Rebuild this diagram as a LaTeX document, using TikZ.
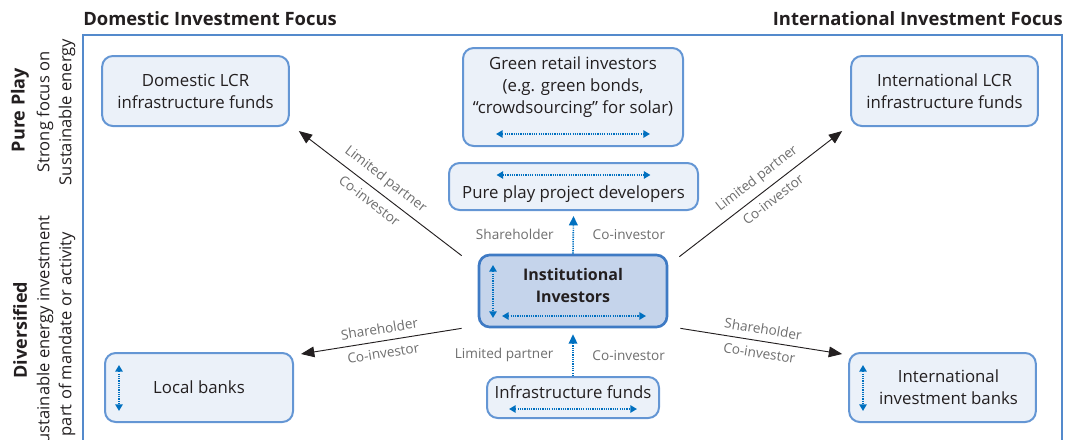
\documentclass[tikz,border=0pt]{standalone}
\usepackage{fontspec}
\setmainfont{Open Sans}
\usetikzlibrary{arrows.meta}

\begin{document}
\begin{tikzpicture}[x=0.75pt,y=-0.75pt,
	box/.style={draw=boxline, fill=boxfill, line width=1.5pt, rounded corners=8pt},
	boxtext/.style={align=center, text=textgray, font=\fontsize{12.6}{16.5}\selectfont},
	heading/.style={inner sep=0pt, text=textgray, font=\fontsize{13.8}{16}\selectfont\bfseries},
	sidetext/.style={rotate=90, align=center, text=textgray, font=\fontsize{12.4}{16.5}\selectfont},
	role/.style={inner sep=2pt, text=rolegray, font=\fontsize{10.2}{12}\selectfont},
	slopedrole/.style={role, sloped, inner sep=5pt},
	invest/.style={draw=textgray, line width=0.7pt, -{Triangle[length=10pt,width=8pt]}},
	dotline/.style={draw=dotblue, line width=1.2pt, dash pattern=on 0.9pt off 0.8pt},
	swap/.style={dotline, {Triangle[length=5pt,width=5.5pt]}-{Triangle[length=5pt,width=5.5pt]}},
	feed/.style={dotline, -{Triangle[length=7pt,width=6.5pt]}}
]
	% Colours
	\definecolor{frameblue}{RGB}{84,138,204}
	\definecolor{boxline}{RGB}{100,150,212}
	\definecolor{boxfill}{RGB}{235,241,249}
	\definecolor{instfill}{RGB}{197,212,235}
	\definecolor{instline}{RGB}{62,122,196}
	\definecolor{dotblue}{RGB}{0,112,192}
	\definecolor{textgray}{RGB}{35,31,32}
	\definecolor{rolegray}{RGB}{110,110,110}

	\useasboundingbox (0,0) rectangle (1067,439);

	% Column headings and frame
	\node[heading, anchor=west] (domtitle) at (83,19) {Domestic Investment Focus};
	\node[heading, anchor=east] (inttitle) at (1063,19) {International Investment Focus};
	\draw[frameblue, line width=1.6pt] (83,450) -- (83,35) -- (1062,35) -- (1062,450);

	% Row headings (rotated)
	\node[sidetext, font=\fontsize{13.5}{16}\selectfont\bfseries] (puretitle) at (20,110) {Pure Play};
	\node[sidetext] (puresub) at (56,112) {Strong focus on\\Sustainable energy};
	\node[sidetext, font=\fontsize{13.5}{16}\selectfont\bfseries] (divtitle) at (20,330) {Diversified};
	\node[sidetext] (divsub) at (56,334) {Sustainable energy investment\\part of mandate or activity};

	% Boxes
	\node[box, minimum width=140pt, minimum height=52.5pt] (domlcr) at (195.5,91) {};
	\node[box, minimum width=165pt, minimum height=73.5pt] (green) at (573,97) {};
	\node[box, minimum width=186.75pt, minimum height=35.25pt] (pure) at (573.5,186.5) {};
	\node[box, minimum width=140pt, minimum height=52.5pt] (intlcr) at (944.5,91) {};
	\node[box, draw=instline, fill=instfill, line width=2pt, minimum width=141pt, minimum height=54pt] (inst) at (573,291) {};
	\node[box, minimum width=129pt, minimum height=30.75pt] (infra) at (573,397.5) {};
	\node[box, minimum width=141pt, minimum height=51.75pt] (local) at (199,387.5) {};
	\node[box, minimum width=140pt, minimum height=51.75pt] (intbanks) at (942.5,387.5) {};

	% Box texts
	\node[boxtext] (domlcrtext) at (domlcr) {Domestic LCR\\infrastructure funds};
	\node[boxtext] (greentext) at ([shift={(0,-10)}]green.center) {Green retail investors\\(e.g. green bonds,\\``crowdsourcing'' for solar)};
	\node[boxtext] (puretext) at ([shift={(0,7.5)}]pure.center) {Pure play project developers};
	\node[boxtext] (intlcrtext) at (intlcr) {International LCR\\infrastructure funds};
	\node[boxtext, font=\fontsize{12}{16}\selectfont\bfseries] (insttext) at ([shift={(0,-5.5)}]inst.center) {Institutional\\Investors};
	\node[boxtext] (infratext) at ([shift={(0,-5.5)}]infra.center) {Infrastructure funds};
	\node[boxtext] (localtext) at (local) {Local banks};
	\node[boxtext] (intbankstext) at ([shift={(6,0)}]intbanks.center) {International\\investment banks};

	% Dotted two-way arrows inside boxes
	\draw[swap] ([shift={(-77,37)}]green.center) -- ([shift={(77,37)}]green.center);
	\draw[swap] ([shift={(-77,-11.5)}]pure.center) -- ([shift={(77,-11.5)}]pure.center);
	\draw[swap] ([shift={(-71,25)}]inst.center) -- ([shift={(73,25)}]inst.center);
	\draw[swap] ([shift={(-80,-26)}]inst.center) -- ([shift={(-80,27)}]inst.center);
	\draw[swap] ([shift={(-64,11.5)}]infra.center) -- ([shift={(64,11.5)}]infra.center);
	\draw[swap] ([shift={(-80,-22.5)}]local.center) -- ([shift={(-80,23.5)}]local.center);
	\draw[swap] ([shift={(-79.5,-22.5)}]intbanks.center) -- ([shift={(-79.5,23.5)}]intbanks.center);

	% Investment links from institutional investors
	\draw[invest] ([xshift=-12pt,yshift=-1.5pt]inst.north west) -- ([xshift=6.75pt,yshift=-3pt]domlcr.south east)
		node[slopedrole, pos=.52, above] (dl1) {Limited partner}
		node[slopedrole, pos=.52, below] (dl2) {Co-investor};
	\draw[invest] ([xshift=8.25pt,yshift=-2.25pt]inst.north east) -- ([xshift=-6pt,yshift=-3pt]intlcr.south west)
		node[slopedrole, pos=.53, above] (il1) {Limited partner}
		node[slopedrole, pos=.53, below] (il2) {Co-investor};
	\draw[invest] ([xshift=-12pt]inst.south west) -- ([xshift=5.25pt,yshift=-1.5pt]local.north east)
		node[slopedrole, pos=.5, above] (lb1) {Shareholder}
		node[slopedrole, pos=.5, below] (lb2) {Co-investor};
	\draw[invest] ([xshift=9pt]inst.south east) -- ([xshift=-4.5pt,yshift=-1.5pt]intbanks.north west)
		node[slopedrole, pos=.5, above] (ib1) {Shareholder}
		node[slopedrole, pos=.5, below] (ib2) {Co-investor};

	% Vertical dotted links
	\draw[feed] (inst.north) -- ([yshift=-3.75pt]pure.south)
		node[role, midway, left=12pt] (pd1) {Shareholder}
		node[role, midway, right=12pt] (pd2) {Co-investor};
	\draw[feed] (infra.north) -- ([yshift=-4.5pt]inst.south)
		node[role, midway, left=12pt] (if1) {Limited partner}
		node[role, midway, right=12pt] (if2) {Co-investor};
\end{tikzpicture}
\end{document}
